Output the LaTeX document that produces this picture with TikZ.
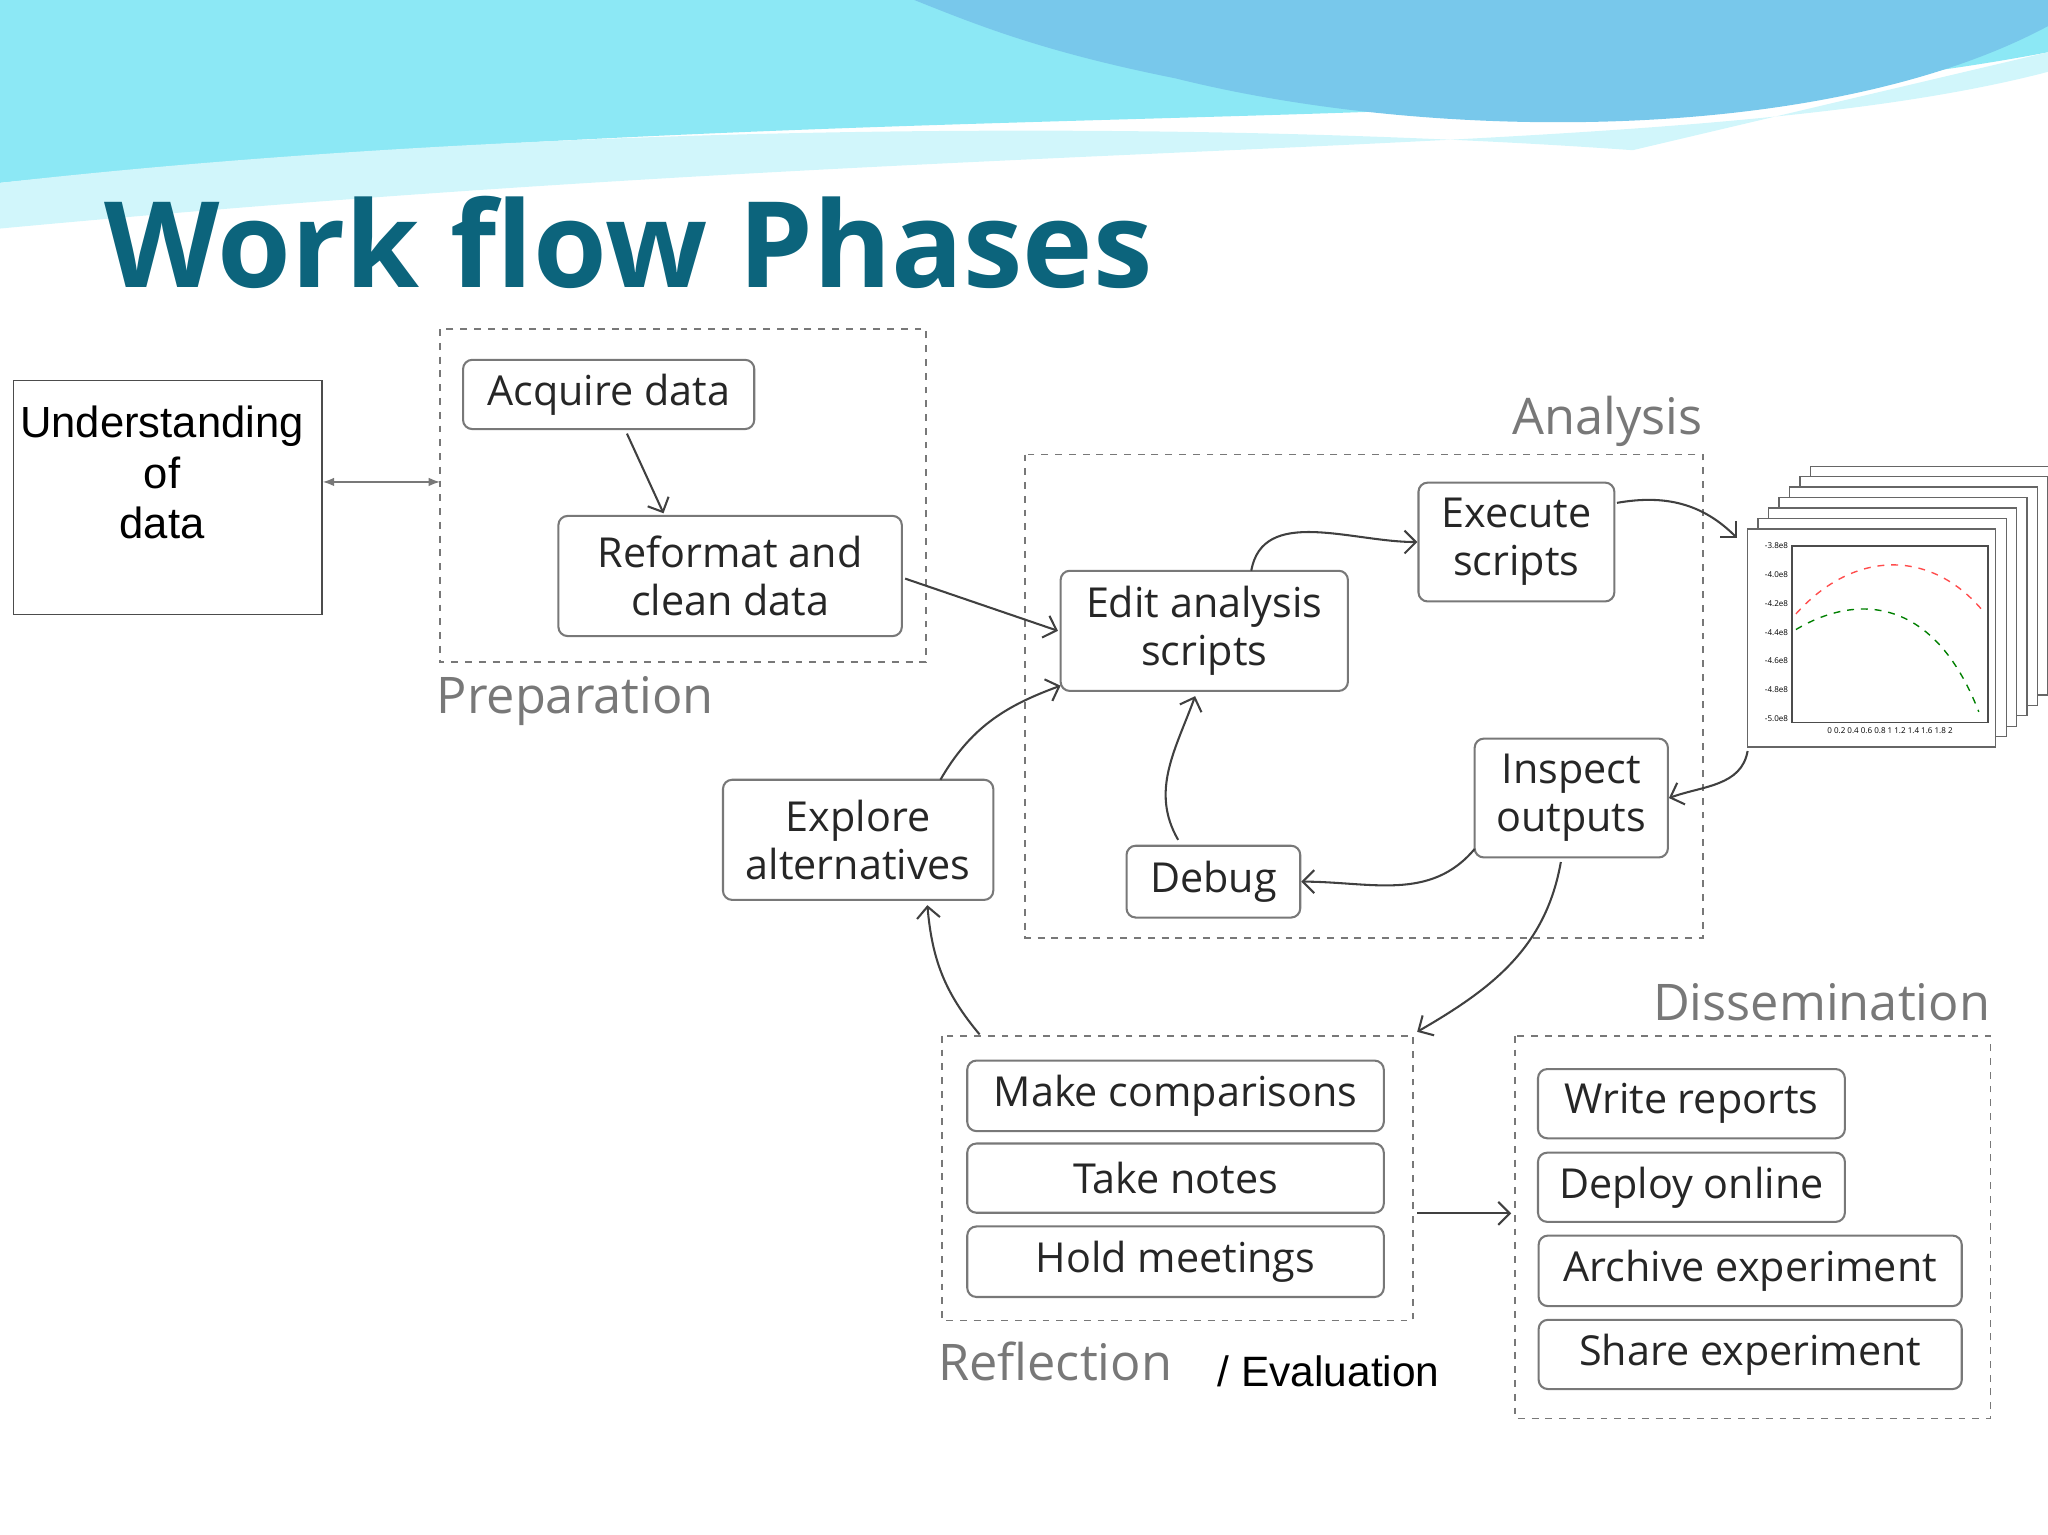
\documentclass[tikz,border=0pt]{standalone}
\usepackage{fontspec}
\setmainfont{Open Sans}
\newfontfamily\arialfont{Liberation Sans}
\usetikzlibrary{arrows.meta}
\definecolor{titleteal}{RGB}{12,100,124}
\definecolor{phasegray}{RGB}{120,120,120}
\definecolor{wavea}{RGB}{140,232,245}
\definecolor{waveb}{RGB}{120,200,235}
\tikzset{
  stepbox/.style={draw=phasegray,rounded corners=4pt,line width=0.9pt,align=center,
    font=\fontsize{18}{21}\selectfont,text=black!85,inner sep=0pt},
  phase/.style={draw=phasegray,dashed,line width=0.8pt},
  phaselabel/.style={text=phasegray,font=\fontsize{22}{26}\selectfont,inner sep=0pt},
  flow/.style={-{Straight Barb[length=5pt]},line width=0.9pt,draw=black!75},
}
\begin{document}
\begin{tikzpicture}[x=0.02cm,y=-0.02cm]
\useasboundingbox (0,0) rectangle (1568,1175);
% header waves
\fill[wavea] (0,0) -- (1568,0) -- (1568,40) .. controls (1200,110) and (700,70) .. (0,140) -- cycle;
\fill[waveb] (700,0) -- (1568,0) -- (1568,20) .. controls (1400,110) and (1100,110) .. (900,60) .. controls (800,40) and (750,20) .. (700,0) -- cycle;
\fill[wavea!40] (0,140) .. controls (400,95) and (900,90) .. (1250,115) -- (1568,40) -- (1568,55) .. controls (1300,125) and (800,100) .. (0,175) -- cycle;
\node[anchor=base west,font=\fontsize{52}{52}\bfseries\selectfont,text=titleteal,inner sep=0pt] (title) at (80,220) {Work flow Phases};

% understanding
\node[draw=black!70,line width=0.6pt,minimum width=4.72cm,minimum height=3.58cm,anchor=north west] (und) at (10,291) {};
\node[font=\arialfont\fontsize{19}{22}\selectfont,align=center] (undtext) at (124,362) {Understanding\\of\\data};
\coordinate (prepL) at (337,369);
\draw[{Latex[length=5pt]}-{Latex[length=5pt]},phasegray,line width=0.8pt] (und.east |- prepL) -- (prepL);

% preparation
\draw[phase] (337,252) rectangle (709,507);
\node[phaselabel,anchor=west] (preplabel) at (334,537) {Preparation};
\node[stepbox,minimum width=4.46cm,minimum height=1.06cm] (acq) at (466,302) {Acquire data};
\node[stepbox,minimum width=5.26cm,minimum height=1.84cm] (ref) at (559,441) {Reformat and\\clean data};

% analysis
\draw[phase] (785,348) rectangle (1304,718);
\node[phaselabel,anchor=east] (analabel) at (1304,323) {Analysis};
\node[stepbox,minimum width=4.4cm,minimum height=1.84cm] (edit) at (922,483) {Edit analysis\\scripts};
\node[stepbox,minimum width=3.0cm,minimum height=1.82cm] (exec) at (1161,415) {Execute\\scripts};
\node[stepbox,minimum width=2.96cm,minimum height=1.82cm] (insp) at (1203,611) {Inspect\\outputs};
\node[stepbox,minimum width=2.66cm,minimum height=1.1cm] (debug) at (929,675) {Debug};
\node[stepbox,minimum width=4.14cm,minimum height=1.84cm] (expl) at (657,643) {Explore\\alternatives};

% output plots
\foreach \i in {6,5,...,0}{
  \draw[fill=white,draw=black!60,line width=0.6pt] (1338+8*\i,405-8*\i) rectangle (1528+8*\i,572-8*\i);
}
\node[inner sep=0pt] (plot) at (1433,488) {};
\draw[black!70,line width=0.5pt] (1372,418) rectangle (1522,553);
\foreach \k/\l in {0/-3.8e8,1/-4.0e8,2/-4.2e8,3/-4.4e8,4/-4.6e8,5/-4.8e8,6/-5.0e8}{
  \node[font=\fontsize{3.5}{4}\selectfont,anchor=east,inner sep=1pt] (tick\k) at (1371,418+22*\k) {\l};
}
\node[font=\fontsize{3.5}{4}\selectfont,anchor=north,inner sep=1pt] (xticks) at (1447,555) {0 0.2 0.4 0.6 0.8 1 1.2 1.4 1.6 1.8 2};
\draw[red!70,dashed,line width=0.6pt] (1375,470) .. controls (1420,420) and (1480,420) .. (1520,470);
\draw[green!50!black,dashed,line width=0.6pt] (1375,482) .. controls (1420,455) and (1480,455) .. (1515,545);

% flows
\coordinate (acqout) at (480,332);
\coordinate (refin) at (508,393);
\draw[flow] (acqout) -- (refin);
\coordinate (refout) at (693,443);
\coordinate (editin) at (810,483);
\draw[flow] (refout) -- (editin);
\coordinate (edittop) at (958,437);
\draw[flow] (edittop) to[out=80,in=180] (exec.west);
\coordinate (execout) at (1238,385);
\coordinate (plotin) at (1330,412);
\draw[flow] (execout) to[out=10,in=135] (plotin);
\coordinate (plotout) at (1338,575);
\draw[flow] (plotout) to[out=-100,in=20] (insp.east);
\coordinate (inspout) at (1129,650);
\draw[flow] (inspout) to[out=-130,in=0] (debug.east);
\coordinate (debugout) at (902,643);
\coordinate (editbot) at (915,533);
\draw[flow] (debugout) to[out=120,in=-110] (editbot);
\coordinate (explout) at (720,597);
\coordinate (editleft) at (812,525);
\draw[flow] (explout) to[out=60,in=-160] (editleft);
\coordinate (inspbot) at (1195,660);
\coordinate (reflin) at (1085,790);
\draw[flow] (inspbot) to[out=-100,in=30] (reflin);

% reflection
\draw[phase] (721,793) rectangle (1082,1011);
\node[phaselabel,anchor=west] (refllabel) at (718,1042) {Reflection};
\node[font=\arialfont\fontsize{18.5}{22}\selectfont,anchor=west,inner sep=0pt] (evallabel) at (932,1050) {/ Evaluation};
\node[stepbox,minimum width=6.38cm,minimum height=1.08cm] (cmp) at (900,839) {Make comparisons};
\node[stepbox,minimum width=6.38cm,minimum height=1.06cm] (notes) at (900,902) {Take notes};
\node[stepbox,minimum width=6.38cm,minimum height=1.08cm] (meet) at (900,966) {Hold meetings};
\coordinate (reflout) at (750,792);
\coordinate (explin) at (710,693);
\draw[flow] (reflout) to[out=130,in=-85] (explin);

% dissemination
\draw[phase] (1160,793) rectangle (1524,1086);
\node[phaselabel,anchor=east] (disslabel) at (1524,767) {Dissemination};
\node[stepbox,minimum width=4.7cm,minimum height=1.06cm] (write) at (1295,845) {Write reports};
\node[stepbox,minimum width=4.7cm,minimum height=1.06cm] (deploy) at (1295,909) {Deploy online};
\node[stepbox,minimum width=6.48cm,minimum height=1.08cm] (arch) at (1340,973) {Archive experiment};
\node[stepbox,minimum width=6.48cm,minimum height=1.06cm] (share) at (1340,1037) {Share experiment};
\coordinate (reflright) at (1085,929);
\coordinate (dissin) at (1157,929);
\draw[flow] (reflright) -- (dissin);
\end{tikzpicture}
\end{document}
